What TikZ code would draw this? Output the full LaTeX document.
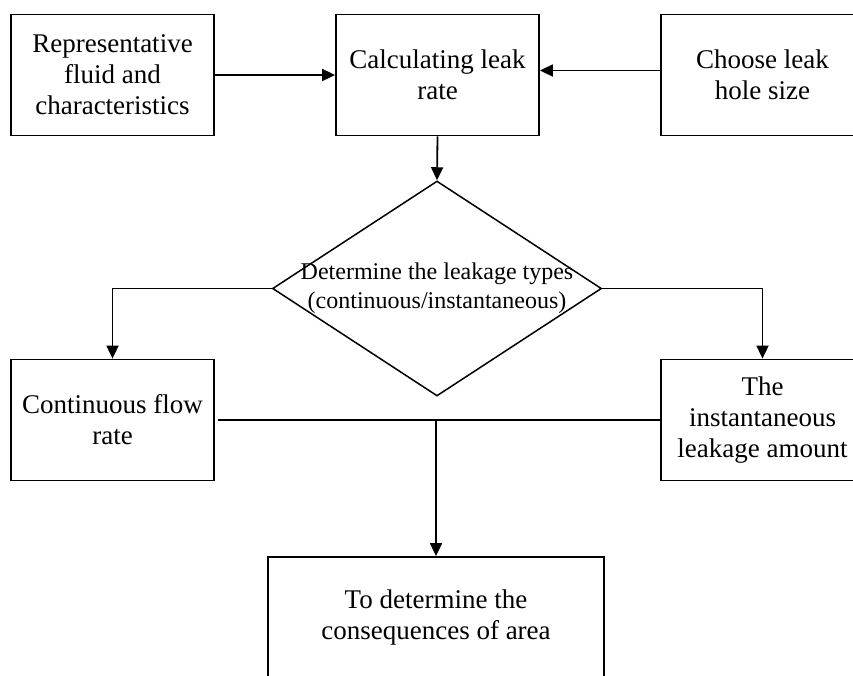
\documentclass[tikz,border=0pt]{standalone}
\usepackage{fontspec}
\setmainfont{Liberation Serif}
\usetikzlibrary{shapes.geometric,arrows.meta}
\begin{document}
\begin{tikzpicture}[x=1pt,y=-1pt,
  box/.style={draw=black, line width=1.8pt, rectangle, minimum width=203pt, minimum height=121pt, inner sep=0pt, align=center, font=\fontsize{27}{31}\selectfont},
  conn/.style={draw=black, line width=1.8pt},
  arr/.style={conn, -{Triangle[length=13pt,width=12pt]}}]
\useasboundingbox (0,0) rectangle (853,675);
\clip (0,0) rectangle (853,675);
\node[box] (b1) at (112.5,75) {Representative\\fluid and\\characteristics};
\node[box] (b2) at (437.5,75) {Calculating leak\\rate};
\node[box] (b3) at (762.5,75) {Choose leak\\hole size};
\node[diamond, draw=black, line width=1.5pt, minimum width=329pt, minimum height=215pt, inner sep=0pt] (dec) at (437,288.5) {};
\node[align=center, inner sep=0pt, font=\fontsize{24}{29}\selectfont] (dect) at (dec.center) {Determine the leakage types\\(continuous/instantaneous)};
\node[box] (b4) at (112.5,420) {Continuous flow\\rate};
\node[box] (b5) at (762.5,420) {The\\instantaneous\\leakage amount};
\node[box, minimum width=336pt] (b6) at (436,617.5) {To determine the\\consequences of area};
\draw[arr] (b1.east) -- (b2.west);
\draw[arr] ([yshift=4.5pt]b3.west) -- ([yshift=4.5pt]b2.east);
\draw[arr] (b2.south) -- (dec.north);
\draw[arr] (dec.west) -| (b4.north);
\draw[arr] (dec.east) -| (b5.north);
\draw[conn] ([xshift=3pt]b4.east) -- (b5.west);
\coordinate (j) at (b4.east -| b6.north);
\draw[arr] (j) -- (b6.north);
\end{tikzpicture}
\end{document}
